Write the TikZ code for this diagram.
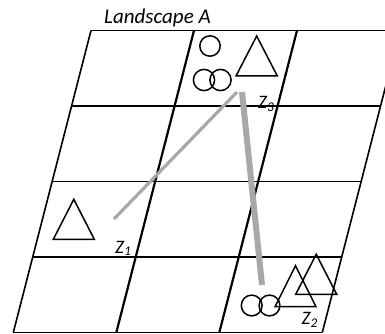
\documentclass[tikz,border=0pt]{standalone}
\usepackage{fontspec}
\setmainfont{Carlito}
\tikzset{
  gridline/.style={line width=1.6pt},
  colline/.style={line width=2.2pt},
  piece/.style={line width=1.5pt},
  linkthin/.style={line width=3.2pt, color=linkgray},
  linkthick/.style={line width=6pt, color=linkgray},
  zlabel/.style={anchor=base west, inner sep=0pt, font=\fontsize{19}{22}\selectfont\itshape},
  titlelabel/.style={anchor=base west, inner sep=0pt, font=\fontsize{21}{24}\selectfont\itshape}
}
\definecolor{linkgray}{RGB}{168,168,168}
\begin{document}
\begin{tikzpicture}[x=1pt, y=-1pt]
      \useasboundingbox (0,0) rectangle (385,334);
      \clip (0,0) rectangle (385,334);
      % grid corners: column c, row r
      \foreach \r/\y in {0/30.5, 1/106.3, 2/181.5, 3/256.8, 4/332.5} {
        \draw[gridline] ({91-0.257*(\y-30.5)},\y) -- ({400-0.257*(\y-30.5)},\y);
      }
      \draw[gridline] (91,30.5) -- (13.3,332.5);
      \draw[colline] (194,30.5) -- (116.3,332.5);
      \draw[colline] (297,30.5) -- (219.3,332.5);
      \draw[gridline] (400,30.5) -- (322.3,332.5);
      \node[titlelabel] (title) at (104,24) {Landscape A};
      % cell Z3
      \draw[piece] (210,46) circle (10.2);
      \draw[piece] (204,80) circle (10.6);
      \draw[piece] (220.5,80) circle (10.6);
      \draw[piece] (236,76) -- (277.3,76) -- (256.7,36) -- cycle;
      % cell Z1
      \draw[piece] (53.3,239.3) -- (94.3,239.3) -- (73.8,199.3) -- cycle;
      % cell Z2
      \draw[piece] (251.7,305.5) circle (10.4);
      \draw[piece] (269.5,305.5) circle (10.4);
      \draw[piece] (275,306.7) -- (316,306.7) -- (295.5,265.7) -- cycle;
      \draw[piece] (295.7,294.3) -- (336.7,294.3) -- (316.2,254.3) -- cycle;
      % labels
      \node[zlabel] (z3) at (258,109) {Z\textsubscript{3}};
      \node[zlabel] (z1) at (115,253) {Z\textsubscript{1}};
      \node[zlabel] (z2) at (301.5,324.5) {Z\textsubscript{2}};
      % links
      \coordinate (p1) at (114,219);
      \coordinate (p3) at (237,92);
      \coordinate (q3) at (242,92);
      \coordinate (p2) at (262,285);
      \draw[linkthin] (p1) -- (p3);
      \draw[linkthick] (q3) -- (p2);
\end{tikzpicture}
\end{document}
